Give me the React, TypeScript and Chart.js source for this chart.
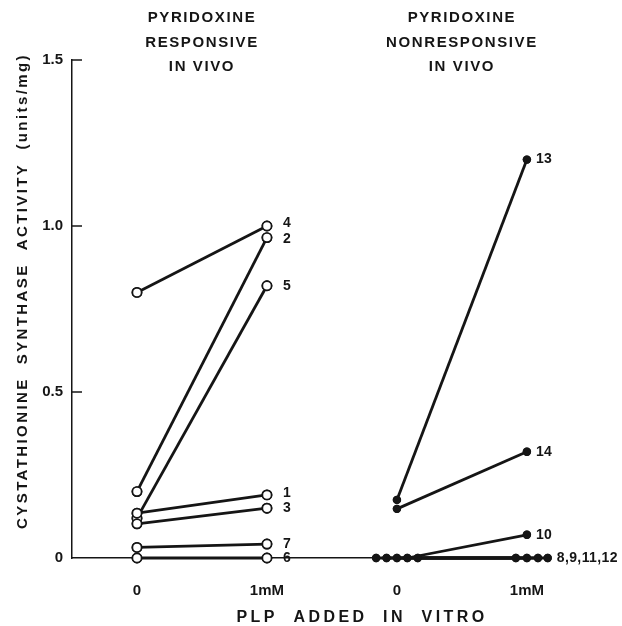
import { useEffect, useRef } from 'react';
import { Chart, registerables } from 'chart.js';

Chart.register(...registerables);

// ---- data ----
const xTickValues = [1, 2, 3, 4];
const xTickLabels = ['0', '1mM', '0', '1mM'];
const yTickValues = [0, 0.5, 1.0, 1.5];
const yTickLabels = ['0', '0.5', '1.0', '1.5'];

const responsivePatients = ['4', '2', '5', '1', '3', '7', '6'];
const responsiveBaseline = [0.8, 0.2, 0.12, 0.135, 0.103, 0.032, 0];
const responsivePLP = [1.0, 0.965, 0.82, 0.19, 0.15, 0.042, 0];
const responsiveBaselineX = [1, 1, 1, 1, 1, 1, 1];
const responsivePLPX = [2, 2, 2, 2, 2, 2, 2];

const nonresponsivePatients = ['13', '14', '10', '8', '9', '11', '12'];
const nonresponsiveBaseline = [0.175, 0.148, 0, 0, 0, 0, 0];
const nonresponsivePLP = [1.2, 0.32, 0.07, 0, 0, 0, 0];
const nonresponsiveBaselineX = [3, 3, 3.08, 2.84, 2.92, 3.0, 3.16];
const nonresponsivePLPX = [4, 4, 4, 3.915, 4.0, 4.085, 4.16];
const nonresponsiveLabels = ['13', '14', '10', '', '', '', '8,9,11,12'];

const groupTitles = [
  ['PYRIDOXINE', 'RESPONSIVE', 'IN VIVO'],
  ['PYRIDOXINE', 'NONRESPONSIVE', 'IN VIVO'],
];
const groupCenters = [1.5, 3.5];
const yTitle = 'CYSTATHIONINE  SYNTHASE  ACTIVITY  (units/mg)';
const xTitle = 'PLP  ADDED  IN  VITRO';

const FONT = '"Liberation Sans", Arial, sans-serif';
const INK = '#151515';

export default function App() {
  const ref = useRef<HTMLCanvasElement>(null);

  useEffect(() => {
    document.body.style.margin = '0';
    const canvas = ref.current;
    if (!canvas) return;

    const datasets: any[] = [];
    responsivePatients.forEach((p, i) => {
      datasets.push({
        label: 'Patient ' + p,
        pointLabel: p,
        labelDx: 16,
        data: [
          { x: responsiveBaselineX[i], y: responsiveBaseline[i] },
          { x: responsivePLPX[i], y: responsivePLP[i] },
        ],
        borderColor: INK,
        borderWidth: 2.8,
        pointRadius: 4.6,
        pointBorderWidth: 1.7,
        pointBackgroundColor: '#fff',
        pointBorderColor: INK,
        clip: false,
        tension: 0,
        fill: false,
      });
    });
    nonresponsivePatients.forEach((p, i) => {
      datasets.push({
        label: 'Patient ' + p,
        pointLabel: nonresponsiveLabels[i],
        labelDx: 9,
        data: [
          { x: nonresponsiveBaselineX[i], y: nonresponsiveBaseline[i] },
          { x: nonresponsivePLPX[i], y: nonresponsivePLP[i] },
        ],
        borderColor: INK,
        borderWidth: 2.8,
        pointRadius: 4.2,
        pointBorderWidth: 0,
        pointBackgroundColor: INK,
        pointBorderColor: INK,
        clip: false,
        tension: 0,
        fill: false,
      });
    });

    const labelNudge: Record<string, number> = { '4': -3, '2': 2, '1': -2 };

    const decor = {
      id: 'decor',
      afterDatasetsDraw(chart: any) {
        // points on top of every line
        chart.data.datasets.forEach((_: any, i: number) => {
          const meta = chart.getDatasetMeta(i);
          meta.data.forEach((pt: any) => pt.draw(chart.ctx));
        });
      },
      afterDraw(chart: any) {
        const ctx = chart.ctx as CanvasRenderingContext2D;
        const { x, y } = chart.scales;
        const area = chart.chartArea;
        ctx.save();
        ctx.fillStyle = INK;
        ctx.strokeStyle = INK;

        // inward tick marks
        ctx.lineWidth = 1.5;
        yTickValues.forEach((v) => {
          if (v === 0) return;
          const py = y.getPixelForValue(v);
          ctx.beginPath();
          ctx.moveTo(area.left, py);
          ctx.lineTo(area.left + 10, py);
          ctx.stroke();
        });

        // point labels
        ctx.font = `bold 14px ${FONT}`;
        (ctx as any).letterSpacing = '0.4px';
        ctx.textAlign = 'left';
        ctx.textBaseline = 'middle';
        chart.data.datasets.forEach((ds: any, i: number) => {
          if (!ds.pointLabel) return;
          const pt = chart.getDatasetMeta(i).data[1];
          ctx.fillText(ds.pointLabel, pt.x + ds.labelDx, pt.y + (labelNudge[ds.pointLabel] || 0));
        });

        // group titles
        ctx.font = `bold 15px ${FONT}`;
        (ctx as any).letterSpacing = '1.6px';
        ctx.textAlign = 'center';
        groupTitles.forEach((lines, g) => {
          const cx = x.getPixelForValue(groupCenters[g]);
          lines.forEach((t, k) => ctx.fillText(t, cx, 18 + k * 24.5));
        });

        // x title
        ctx.font = `bold 16px ${FONT}`;
        (ctx as any).letterSpacing = '3.4px';
        ctx.fillText(xTitle, 362, 618);

        // y title
        ctx.font = `bold 15px ${FONT}`;
        (ctx as any).letterSpacing = '2.4px';
        ctx.translate(23, 291);
        ctx.rotate(-Math.PI / 2);
        ctx.fillText(yTitle, 0, 0);
        ctx.restore();
      },
    };

    const chart = new Chart(canvas, {
      type: 'line',
      data: { datasets },
      options: {
        responsive: false,
        animation: false,
        layout: { padding: { top: 60, right: 73, left: 0, bottom: 0 } },
        plugins: { legend: { display: false }, tooltip: { enabled: false } },
        scales: {
          x: {
            type: 'linear',
            min: 0.5,
            max: 4.17,
            grid: { display: false, drawTicks: false },
            border: { display: true, color: INK, width: 1.5 },
            afterFit: (s: any) => {
              s.height = 68;
            },
            afterBuildTicks: (s: any) => {
              s.ticks = xTickValues.map((v) => ({ value: v }));
            },
            ticks: {
              callback: (_v: any, i: number) => xTickLabels[i],
              font: { family: FONT, size: 15, weight: 'bold' },
              color: INK,
              padding: 24,
              autoSkip: false,
              maxRotation: 0,
            },
          },
          y: {
            min: 0,
            max: 1.5,
            grid: { display: false, drawTicks: false },
            border: { display: true, color: INK, width: 1.5 },
            afterFit: (s: any) => {
              s.width = 72;
            },
            afterBuildTicks: (s: any) => {
              s.ticks = yTickValues.map((v) => ({ value: v }));
            },
            ticks: {
              callback: (_v: any, i: number) => yTickLabels[i],
              font: { family: FONT, size: 15, weight: 'bold' },
              color: INK,
              padding: 9,
            },
          },
        },
      },
      plugins: [decor],
    } as any);

    return () => chart.destroy();
  }, []);

  return (
    <div style={{ width: 622, height: 626, background: '#fff' }}>
      <canvas ref={ref} width={622} height={626} style={{ display: 'block' }} />
    </div>
  );
}
